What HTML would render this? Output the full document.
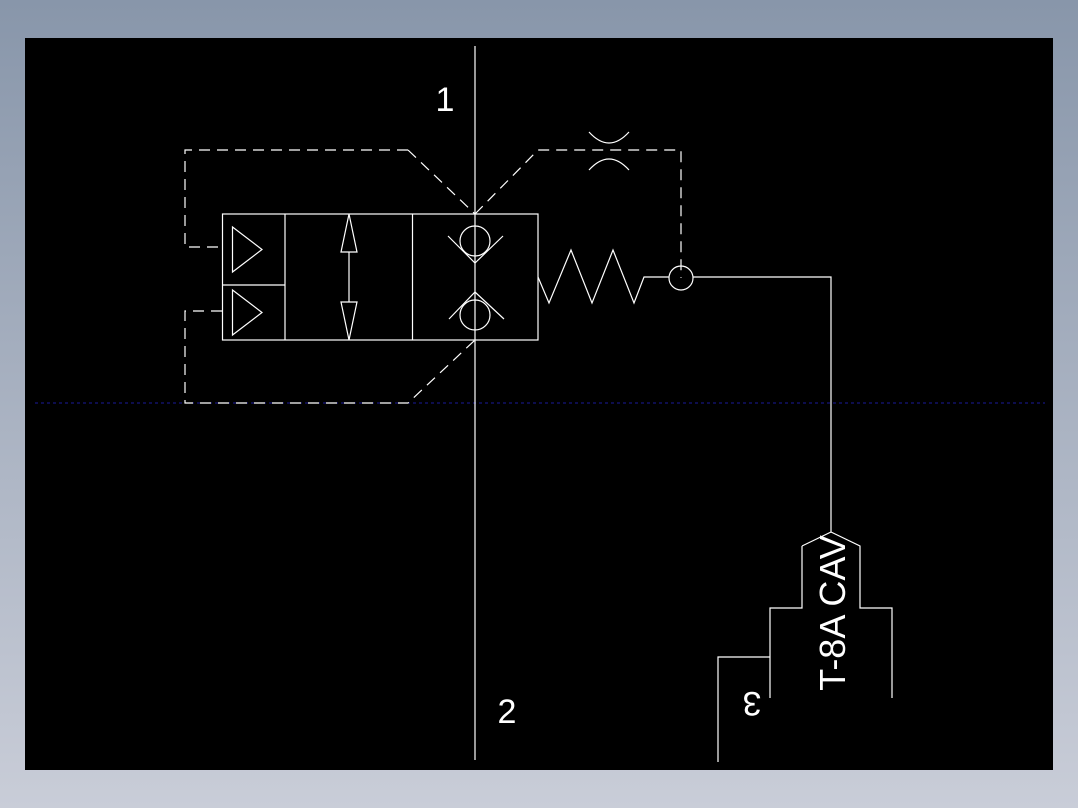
<!DOCTYPE html>
<html><head><meta charset="utf-8"><style>
html,body{margin:0;padding:0;}
body{width:1078px;height:808px;background:linear-gradient(#8896aa,#c9cdd8);overflow:hidden;}
svg{position:absolute;left:0;top:0;}
</style></head><body>
<svg width="1078" height="808" viewBox="0 0 1078 808" xmlns="http://www.w3.org/2000/svg">
<rect x="25" y="38" width="1028" height="732" fill="#000"/>
<line x1="35" y1="403" x2="1045" y2="403" stroke="#1a1a9a" stroke-width="1" stroke-dasharray="3,3"/>
<g fill="none" stroke="#fff" stroke-width="1.2">
<line x1="475" y1="46" x2="475" y2="760"/>
<rect x="222.5" y="214" width="315.5" height="126"/>
<line x1="285" y1="214" x2="285" y2="340"/>
<line x1="222.5" y1="285" x2="285" y2="285"/>
<line x1="412.5" y1="214" x2="412.5" y2="340"/>
<polygon points="232.5,227 262,249.5 232.5,272"/>
<polygon points="232.5,290 262,312.5 232.5,335"/>
<line x1="349" y1="252" x2="349" y2="302"/>
<polygon points="349,214 357,252 341,252"/>
<polygon points="349,340 357,302 341,302"/>
<circle cx="475" cy="241" r="15"/>
<polyline points="448,236 475,263 503,236"/>
<circle cx="475" cy="315" r="15"/>
<polyline points="449,319 475,292 504,319"/>
<polyline points="538,277 549,303 571,250 592,303 613,250 634,303 644,277 669,277"/>
<circle cx="681" cy="278" r="12"/>
<polyline points="693,277 831,277 831,532"/>
<path d="M589,132 Q609,154 629,132"/>
<path d="M589,170 Q609,148 629,170"/>
<polyline points="802,546 831,532 860,546 860,608 892,608 892,698"/>
<polyline points="802,546 802,608 770,608 770,698"/>
<polyline points="770,657 718,657 718,762"/>
</g>
<g fill="none" stroke="#fff" stroke-width="1.2" stroke-dasharray="11,7">
<polyline points="408,150 185,150 185,247 222,247"/>
<line x1="408" y1="150" x2="475" y2="214"/>
<polyline points="475,214 538,150 681,150 681,278"/>
<polyline points="222,311 185,311 185,403 408,403 475,340"/>
</g>
<g fill="#fff" font-family="Liberation Sans, sans-serif">
<text x="445" y="111" font-size="34" text-anchor="middle">1</text>
<text x="507" y="723" font-size="34" text-anchor="middle">2</text>
<text transform="translate(845,613) rotate(-90)" font-size="36" text-anchor="middle">T-8A CAV</text>
<text transform="translate(752,692) rotate(180)" font-size="34" text-anchor="middle">3</text>
</g>
</svg>
</body></html>
